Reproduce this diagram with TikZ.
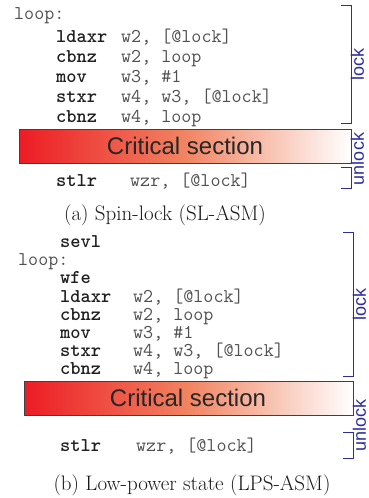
\documentclass[tikz,border=0pt]{standalone}
\usepackage{fontspec}
\newfontfamily\helv{Liberation Sans}
\definecolor{brkblue}{RGB}{45,45,160}
\definecolor{critred}{RGB}{236,28,36}
\definecolor{critmid}{RGB}{241,132,98}
\definecolor{opgray}{RGB}{80,80,80}
\begin{document}
\begin{tikzpicture}[x=1pt,y=-1pt,
  mn/.style={anchor=base west,inner sep=0pt,font=\ttfamily\bfseries\fontsize{19.5}{22}\selectfont,text=black!88},
  op/.style={anchor=base west,inner sep=0pt,font=\ttfamily\fontsize{19.5}{22}\selectfont,text=opgray},
  crit/.style={draw=black!75,line width=0.9pt,left color=critred,right color=white,middle color=critmid},
  crittext/.style={inner sep=0pt,font=\helv\fontsize{24}{28}\selectfont,text=black!85},
  brk/.style={draw=brkblue,line width=0.9pt},
  brklabel/.style={rotate=90,inner sep=0pt,font=\helv\fontsize{18}{21}\selectfont,text=brkblue},
  capt/.style={inner sep=0pt,font=\fontsize{21}{24}\selectfont,text=black!90}]
\useasboundingbox (0,0) rectangle (369,498);
% ---------- panel (a) ----------
\node[op] (aloop) at (14,19) {loop:};
\node[mn] (a1m) at (56,42) {ldaxr}; \node[op] (a1o) at (121,42) {w2, [@lock]};
\node[mn] (a2m) at (56,62) {cbnz};  \node[op] (a2o) at (121,62) {w2, loop};
\node[mn] (a3m) at (56,82) {mov};   \node[op] (a3o) at (121,82) {w3, \#1};
\node[mn] (a4m) at (56,102) {stxr}; \node[op] (a4o) at (121,102) {w4, w3, [@lock]};
\node[mn] (a5m) at (56,122) {cbnz}; \node[op] (a5o) at (121,122) {w4, loop};
\path[crit] (19,129) rectangle (351,163);
\node[crittext] (acrit) at (185,146) {Critical section};
\node[mn] (a6m) at (56,186) {stlr}; \node[op] (a6o) at (130,186) {wzr, [@lock]};
\draw[brk] (341,5) -- (351,5) -- (351,123) -- (341,123);
\node[brklabel] (alock) at (357.5,64) {lock};
\draw[brk] (341,167) -- (351,167) -- (351,188) -- (341,188);
\node[brklabel] (aunlock) at (357.5,159) {unlock};
\node[capt] (acap) at (165,215) {(a) Spin-lock (SL-ASM)};
% ---------- panel (b) ----------
\node[mn] (b0m) at (60,247) {sevl};
\node[op] (bloop) at (18,265) {loop:};
\node[mn] (b1m) at (60,283) {wfe};
\node[mn] (b2m) at (60,302) {ldaxr}; \node[op] (b2o) at (133,302) {w2, [@lock]};
\node[mn] (b3m) at (60,320) {cbnz};  \node[op] (b3o) at (133,320) {w2, loop};
\node[mn] (b4m) at (60,338) {mov};   \node[op] (b4o) at (133,338) {w3, \#1};
\node[mn] (b5m) at (60,356) {stxr};  \node[op] (b5o) at (133,356) {w4, w3, [@lock]};
\node[mn] (b6m) at (60,374) {cbnz};  \node[op] (b6o) at (133,374) {w4, loop};
\path[crit] (24,381) rectangle (353,415);
\node[crittext] (bcrit) at (188,398) {Critical section};
\node[mn] (b7m) at (60,451) {stlr};  \node[op] (b7o) at (136,451) {wzr, [@lock]};
\draw[brk] (343,232) -- (353,232) -- (353,376) -- (343,376);
\node[brklabel] (block) at (359.5,304) {lock};
\draw[brk] (343,432) -- (353,432) -- (353,458) -- (343,458);
\node[brklabel] (bunlock) at (359.5,425) {unlock};
\node[capt] (bcap) at (192,485) {(b) Low-power state (LPS-ASM)};
\end{tikzpicture}
\end{document}
